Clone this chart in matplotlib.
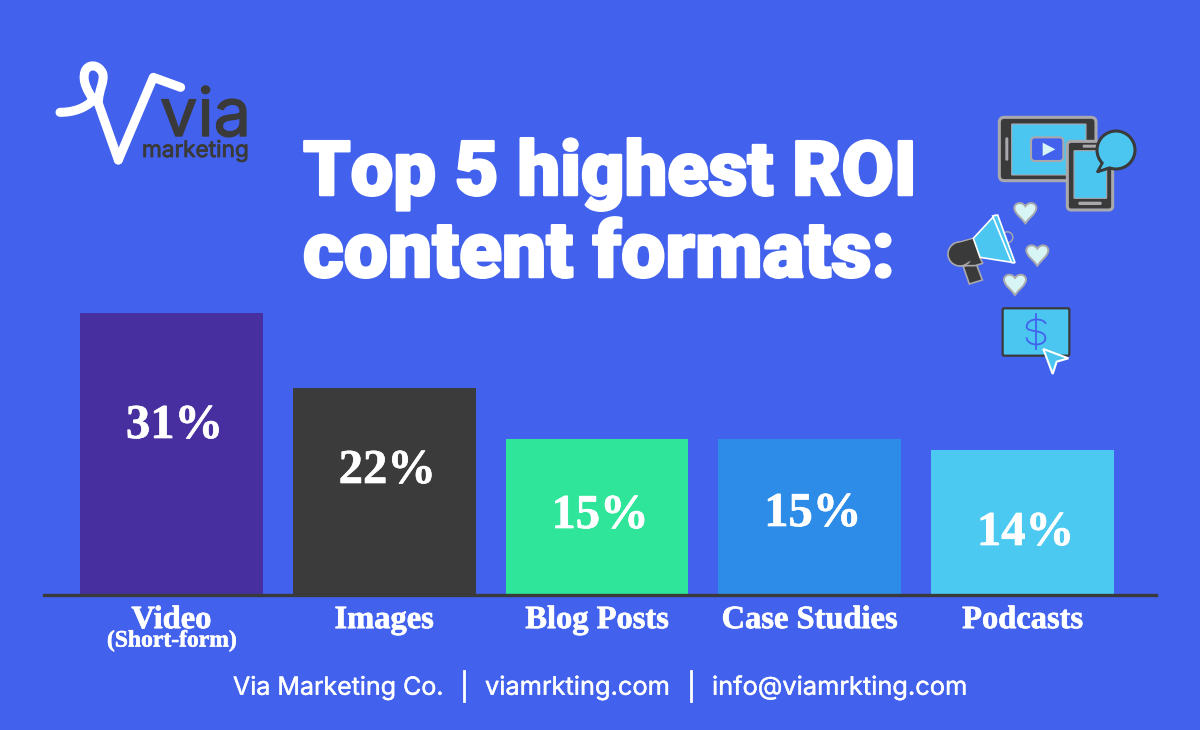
# coding=utf-8
import numpy as np
import matplotlib
matplotlib.use('Agg')
import matplotlib.pyplot as plt
import matplotlib.patheffects as pe
from matplotlib.patches import Circle, FancyBboxPatch, PathPatch, Polygon
from matplotlib.path import Path

# data
categories = ['Video', 'Images', 'Blog Posts', 'Case Studies', 'Podcasts']
pct_labels = ['31%', '22%', '15%', '15%', '14%']
# drawn bar heights, the bars in the picture are not to scale with the labels
bar_heights = [31.0, 22.75, 17.1, 17.1, 15.95]
bar_colors = ['#472fa0', '#3b3b3b', '#2ee59a', '#2d8ce8', '#4bc9f0']
# the labels sit at different heights inside each bar (pixels from top of image)
pct_y = [426, 471, 516, 514, 533]
footer = ['Via Marketing Co.', 'viamrkting.com', 'info@viamrkting.com']

BG = '#4262ee'
DARK = '#3a3a3a'
CYAN = '#4bc6f0'
GRAY = '#a9a9ad'
PALE = '#d8f5f5'

fig = plt.figure(figsize=(12, 7.3), dpi=100, facecolor=BG)

# bars
ax = fig.add_axes([44 / 1200, (730 - 595) / 730, 1112 / 1200, 282 / 730])
ax.patch.set_alpha(0)
x = np.arange(len(categories))
ax.bar(x, bar_heights, width=0.86, color=bar_colors)
ax.set_xlim(-0.5993, 4.6275)
ax.set_ylim(0, 31)
for s in ['top', 'left', 'right']:
    ax.spines[s].set_visible(False)
ax.spines['bottom'].set_color(DARK)
ax.spines['bottom'].set_linewidth(2.4)
ax.set_yticks([])
ax.set_xticks(x)
ax.set_xticklabels(categories, family='Liberation Serif', weight='bold',
                   fontsize=23.4, color='white',
                   path_effects=[pe.withStroke(linewidth=0.5, foreground='white')])
ax.tick_params(axis='x', length=0, pad=8)

# backdrop axes in image pixels, for text and icons, on top of the bars
bg = fig.add_axes([0, 0, 1, 1])
bg.set_xlim(0, 1200)
bg.set_ylim(730, 0)
bg.axis('off')

for i, lab in enumerate(pct_labels):
    px = ax.transData.transform((i, 0))[0]
    bg.text(px + 3, pct_y[i], lab, family='Liberation Serif', weight='bold', fontsize=35,
            color='white', ha='center', va='center',
            path_effects=[pe.withStroke(linewidth=0.5, foreground='white')])

bg.text(172, 641, '(Short-form)', family='Liberation Serif', weight='bold', fontsize=17,
        color='white', ha='center', va='center',
        path_effects=[pe.withStroke(linewidth=0.4, foreground='white')])

# title
heavy = [pe.withStroke(linewidth=1.8, foreground='white')]
bg.text(303, 195, 'Top 5 highest ROI', family='Roboto', weight='black', fontsize=54.5,
        color='white', ha='left', va='baseline', path_effects=heavy)
bg.text(303, 277, 'content formats:', family='Roboto', weight='black', fontsize=56.5,
        color='white', ha='left', va='baseline', path_effects=heavy)

# footer
for fx, t, fs in zip([233, 485, 712], footer, [18, 18.3, 18.3]):
    bg.text(fx, 688, t, family='Inter', fontsize=fs, color='white', ha='left', va='center',
            path_effects=[pe.withStroke(linewidth=0.3, foreground='white')])
for fx in [464, 691]:
    bg.plot([fx, fx], [671, 701], color='white', lw=2)


# logo
def zl(px, py):
    return 30 + px / 3, 40 + py / 3


ribbon = [zl(*p) for p in [(90, 217), (130, 217), (165, 205), (190, 180),
                           (175, 155), (155, 125), (165, 95),
                           (172, 72), (205, 70), (218, 100),
                           (225, 125), (205, 150), (205, 190), (265, 360)]]
ribbon_codes = [Path.MOVETO] + [Path.CURVE4] * 12 + [Path.LINETO]
bg.add_patch(PathPatch(Path(ribbon, ribbon_codes), fc='none', ec='white', lw=6.5,
                       capstyle='round', joinstyle='round'))
vx, vy = zip(*[zl(*p) for p in [(265, 360), (370, 112), (452, 142)]])
bg.plot(vx, vy, color='white', lw=6.5, solid_capstyle='round', solid_joinstyle='round')
bg.text(160, 136, 'via', family='Inter', fontsize=48, color=DARK, ha='left', va='baseline',
        path_effects=[pe.withStroke(linewidth=1, foreground=DARK)])
bg.text(142, 157, 'marketing', family='Inter', fontsize=16.3, color=DARK, ha='left', va='baseline',
        path_effects=[pe.withStroke(linewidth=0.6, foreground=DARK)])


# icons, coordinates
def z(px, py):
    return 930 + px / 3, 100 + py / 3


def rbox(x0, y0, x1, y1, r, **kw):
    (a, b), (c, d) = z(x0, y0), z(x1, y1)
    bg.add_patch(FancyBboxPatch((a + r, b + r), c - a - 2 * r, d - b - 2 * r,
                                boxstyle='round,pad=%g,rounding_size=%g' % (r, r), **kw))


def poly(pts, **kw):
    bg.add_patch(Polygon([z(*p) for p in pts], closed=True, **kw))


def heart(cx, cy, s, **kw):
    verts = [(0, 1), (-0.3, 0.55), (-1, 0.1), (-1, -0.4), (-1, -0.85), (-0.35, -1.05), (0, -0.55),
             (0.35, -1.05), (1, -0.85), (1, -0.4), (1, 0.1), (0.3, 0.55), (0, 1), (0, 1)]
    codes = [Path.MOVETO] + [Path.CURVE4] * 12 + [Path.CLOSEPOLY]
    cc = z(cx, cy)
    bg.add_patch(PathPatch(Path([(cc[0] + v[0] * s, cc[1] + v[1] * s) for v in verts], codes), **kw))


# tablet
rbox(208, 52, 498, 242, 5, fc=DARK, ec=GRAY, lw=2.2)
rbox(245, 72, 468, 225, 0.5, fc=CYAN, ec=GRAY, lw=0.8)
rbox(226, 112, 235, 182, 1.4, fc=GRAY, ec='none')
rbox(303, 112, 400, 183, 4, fc=BG, ec=GRAY, lw=1.5)
poly([(338, 128), (376, 148), (338, 168)], fc=PALE, ec='none')
# phone
rbox(412, 124, 548, 330, 4, fc=DARK, ec=GRAY, lw=2.2)
rbox(432, 152, 530, 295, 0.5, fc=CYAN, ec=GRAY, lw=0.8)
rbox(445, 305, 515, 315, 1.4, fc=GRAY, ec='none')
rbox(458, 134, 505, 143, 1.2, fc=GRAY, ec='none')
# speech bubble
poly([(520, 185), (503, 215), (550, 200)], fc=CYAN, ec=DARK, lw=2.2, joinstyle='round')
bg.add_patch(Circle(z(558, 150), 19, fc=CYAN, ec=DARK, lw=2.2))
poly([(524, 184), (512, 207), (548, 196)], fc=CYAN, ec='none')
# megaphone
bg.add_patch(Circle(z(232, 412), 5.5, fc=BG, ec=GRAY, lw=1))
poly([(100, 500), (135, 482), (157, 540), (118, 552)], fc=DARK, ec=GRAY, lw=1.2)
poly([(130, 415), (150, 472), (158, 490), (135, 497), (90, 497), (70, 432)],
     fc=DARK, ec=GRAY, lw=1.2, joinstyle='round')
bg.add_patch(Circle(z(90, 462), 12, fc=DARK, ec=GRAY, lw=1.2))
poly([(75, 432), (130, 417), (150, 472), (90, 495)], fc=DARK, ec='none')
poly([(130, 415), (195, 345), (252, 488), (150, 472)], fc=CYAN, ec='white', lw=1.2)
poly([(188, 348), (203, 345), (255, 488), (245, 488)], fc=CYAN, ec='white', lw=1.2)
# hearts
for hx, hy in [(286, 337), (322, 464), (255, 552)]:
    heart(hx, hy, 11, fc=PALE, ec=GRAY, lw=1.4)
# card with dollar sign
rbox(218, 625, 418, 767, 1.5, fc=CYAN, ec=DARK, lw=1.6)
bx, by = zip(*[z(318, 642), z(318, 748)])
bg.plot(bx, by, color=BG, lw=1.3)
s_pts = [(347, 672), (345, 655), (292, 650), (290, 680), (290, 700), (346, 685),
         (346, 715), (346, 740), (290, 740), (290, 712)]
s_codes = [Path.MOVETO] + [Path.CURVE4] * 9
bg.add_patch(PathPatch(Path([z(*p) for p in s_pts], s_codes), fc='none', ec=BG, lw=1.3))
# cursor
poly([(340, 747), (415, 775), (380, 785), (368, 822)], fc=CYAN, ec='white', lw=1.5)

fig.savefig('out.png', dpi=100, facecolor=BG)
